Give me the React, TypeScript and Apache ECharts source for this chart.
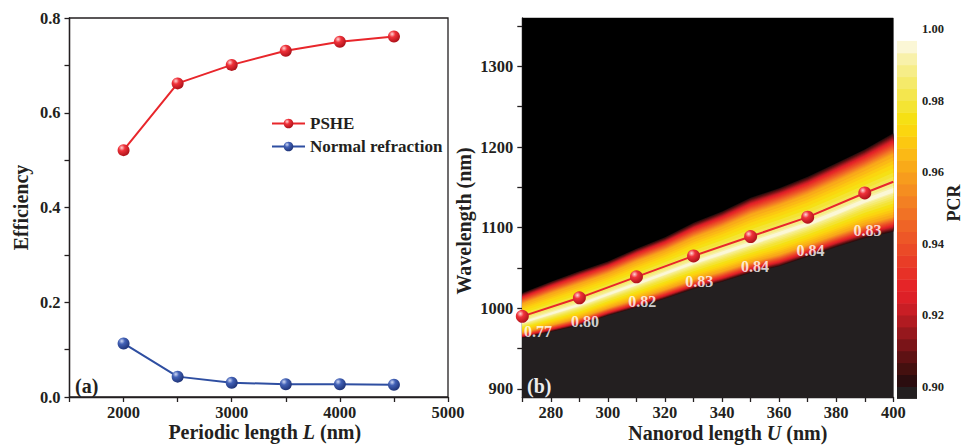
import React, { useEffect, useRef } from 'react';
import * as echarts from 'echarts';

const FONT = "'Liberation Serif', 'Times New Roman', serif";
const INK = '#231f20';

// ---- Panel (a) data ----
const PERIOD_L = [2000, 2500, 3000, 3500, 4000, 4500];
const PSHE_EFF = [0.521, 0.662, 0.701, 0.731, 0.75, 0.761];
const NORMAL_EFF = [0.113, 0.043, 0.03, 0.027, 0.027, 0.026];

// ---- Panel (b) data ----
const NANOROD_U = [270, 290, 310, 330, 350, 370, 390];
const PEAK_WL = [990, 1013, 1039, 1065, 1089, 1113, 1143];
const LINE_END = [400, 1157];
const PCR_TEXT = ['0.77', '0.80', '0.82', '0.83', '0.84', '0.84', '0.83'];
const LABEL_U = [275.5, 292, 312, 332, 351.5, 371, 391];
const LABEL_WL = [971, 984, 1008, 1033, 1052, 1072, 1097];

// PCR field outline: U grid, lower/upper 0.90 contour, ridge
const FIELD_U = [270, 280, 290, 300, 310, 320, 330, 340, 350, 360, 370, 380, 390, 400];
const FIELD_UPPER = [1019, 1033, 1046, 1058, 1074, 1088, 1106, 1120, 1137, 1149, 1163, 1180, 1197, 1217];
const FIELD_LOWER = [963, 971, 979, 991, 1001, 1012, 1024, 1033, 1044, 1052, 1064, 1076, 1087, 1095];
const FIELD_PEAK = [982, 993, 1004, 1017, 1030, 1043, 1056, 1068, 1080, 1092, 1104, 1118, 1133, 1146];
// fraction of the half-width (ridge -> edge) at which each PCR value lies
const PROFILE_V = [0.9, 0.93, 0.96, 0.97, 0.98, 0.99, 0.995, 1.0];
const PROFILE_T = [1.0, 0.84, 0.64, 0.46, 0.24, 0.08, 0.03, 0];

// colour scale (0.90 .. 0.9967, step 1/300)
const PCR_MIN = 0.9;
const PCR_STEP = 1 / 300;
const UNDER_COLOR = '#231f20';
const PCR_COLORS = [
  '#2b0d0f', '#44100f', '#5e1113', '#7a1418', '#96181d', '#b11b21', '#c91e25', '#dd2027',
  '#e52528', '#e73127', '#e93d27', '#eb4a27', '#ed5727', '#ef6426', '#f17225', '#f38023',
  '#f58e20', '#f79c1d', '#f9aa19', '#fbb915', '#fcc811', '#fbd60f', '#f6e014', '#f4e433',
  '#f4e64e', '#f5ea6a', '#f6ed88', '#f8f1aa', '#fbf7d6',
];
const CBAR_TICKS = [0.88, 1.0];

const WL_MIN = 890;
const WL_MAX = 1360;

function interp(xs: number[], ys: number[], x: number) {
  for (let i = 0; i < xs.length - 1; i++) {
    if (x >= xs[i] && x <= xs[i + 1]) {
      const f = (x - xs[i]) / (xs[i + 1] - xs[i]);
      return ys[i] + f * (ys[i + 1] - ys[i]);
    }
  }
  return x < xs[0] ? ys[0] : ys[ys.length - 1];
}

const sphere = (hi: string, mid: string, lo: string) => ({
  type: 'radial',
  x: 0.35,
  y: 0.3,
  r: 0.75,
  colorStops: [
    { offset: 0, color: hi },
    { offset: 0.35, color: mid },
    { offset: 1, color: lo },
  ],
});

const tickFont = { fontFamily: FONT, fontWeight: 'bold' as const, fontSize: 16.5, color: INK };
const titleRich = {
  a: { fontFamily: FONT, fontWeight: 'bold', fontSize: 20, color: INK },
  i: { fontFamily: FONT, fontWeight: 'bold', fontStyle: 'italic', fontSize: 20, color: INK },
};
const axisLine = { show: true, onZero: false, lineStyle: { color: INK, width: 1.3 } };
const axisTick = { show: true, length: 5, lineStyle: { color: INK, width: 1.3 } };

function buildOption() {
  const redSphere = sphere('#ffd6d6', '#f0323a', '#a80f17');
  const blueSphere = sphere('#d0d9f5', '#4261b6', '#1d3174');

  return {
    animation: false,
    grid: [
      { left: 69.5, top: 18, width: 378.5, height: 379, show: true, borderColor: INK, borderWidth: 1.3, outerBoundsMode: 'none', containLabel: false },
      { left: 522.3, top: 18, width: 371, height: 379, show: true, borderColor: '#8a8a8a', borderWidth: 1, backgroundColor: '#000', outerBoundsMode: 'none', containLabel: false },
      { left: 897, top: 29, width: 20, height: 429, outerBoundsMode: 'none', containLabel: false },
    ],
    xAxis: [
      {
        gridIndex: 0, type: 'value', min: 1500, max: 5000, interval: 500,
        axisLine, axisTick, splitLine: { show: false },
        axisLabel: { ...tickFont, margin: 7, formatter: (v: number) => (v % 1000 === 0 ? String(v) : '') },
        name: '{a|Periodic length }{i|L}{a| (nm)}', nameLocation: 'middle', nameGap: 25,
        nameMoveOverlap: false,
        nameTextStyle: { rich: titleRich, padding: [0, 0, 0, 12] },
      },
      {
        gridIndex: 1, type: 'value', min: 270, max: 400, interval: 10,
        axisLine, axisTick, splitLine: { show: false },
        axisLabel: { ...tickFont, margin: 7, formatter: (v: number) => (v % 20 === 0 ? String(v) : '') },
        name: '{a|Nanorod length }{i|U}{a| (nm)}', nameLocation: 'middle', nameGap: 25.5,
        nameMoveOverlap: false,
        nameTextStyle: { rich: titleRich, padding: [0, 0, 0, 40] },
      },
      { gridIndex: 2, type: 'value', min: 0, max: 1, show: false },
    ],
    yAxis: [
      {
        gridIndex: 0, type: 'value', min: 0, max: 0.8, interval: 0.1,
        axisLine, axisTick, splitLine: { show: false },
        axisLabel: { ...tickFont, margin: 9, formatter: (v: number) => (Math.round(v * 10) % 2 === 0 ? v.toFixed(1) : '') },
        name: 'Efficiency', nameLocation: 'middle', nameGap: 39,
        nameTextStyle: { fontFamily: FONT, fontWeight: 'bold', fontSize: 20, color: INK },
      },
      {
        gridIndex: 1, type: 'value', min: WL_MIN, max: WL_MAX,
        axisLine, splitLine: { show: false },
        axisTick: { ...axisTick, customValues: [900, 950, 1000, 1050, 1100, 1150, 1200, 1250, 1300, 1350] },
        axisLabel: { ...tickFont, margin: 9, customValues: [900, 1000, 1100, 1200, 1300], formatter: (v: number) => String(v) },
        name: 'Wavelength (nm)', nameLocation: 'middle', nameGap: 48,
        nameTextStyle: { fontFamily: FONT, fontWeight: 'bold', fontSize: 20, color: INK, padding: [0, 27, 0, 0] },
      },
      {
        gridIndex: 2, type: 'value', min: CBAR_TICKS[0], max: CBAR_TICKS[1], interval: 0.02, position: 'right',
        axisLine: { show: false }, axisTick: { show: false }, splitLine: { show: false },
        axisLabel: {
          fontFamily: FONT, fontWeight: 'bold', fontSize: 12.5, color: INK, margin: 5,
          formatter: (v: number) => (v < 0.895 ? '' : v.toFixed(2)),
        },
      },
    ],
    legend: {
      data: ['PSHE', 'Normal refraction'],
      orient: 'vertical', left: 266, top: 110, itemWidth: 33, itemHeight: 12, itemGap: 6,
      textStyle: { fontFamily: FONT, fontWeight: 'bold', fontSize: 17, color: INK },
    },
    graphic: [
      { type: 'text', x: 75, y: 386, z: 100, style: { text: '(a)', font: `bold 20px ${FONT}`, fill: INK, verticalAlign: 'middle' } },
      { type: 'text', x: 527, y: 386, z: 100, style: { text: '(b)', font: `bold 20px ${FONT}`, fill: '#ececec', verticalAlign: 'middle' } },
      { type: 'text', x: 954, y: 203, rotation: Math.PI / 2, z: 100, style: { text: 'PCR', font: `bold 18px ${FONT}`, fill: INK, align: 'center', verticalAlign: 'middle' } },
    ],
    series: [
      {
        name: 'PSHE', type: 'line', xAxisIndex: 0, yAxisIndex: 0,
        data: PERIOD_L.map((l, i) => [l, PSHE_EFF[i]]),
        symbol: 'circle', symbolSize: 12,
        itemStyle: { color: redSphere },
        lineStyle: { color: '#e8262b', width: 2 },
      },
      {
        name: 'Normal refraction', type: 'line', xAxisIndex: 0, yAxisIndex: 0,
        data: PERIOD_L.map((l, i) => [l, NORMAL_EFF[i]]),
        symbol: 'circle', symbolSize: 12,
        itemStyle: { color: blueSphere },
        lineStyle: { color: '#2e4ea1', width: 2 },
      },
      {
        type: 'custom', xAxisIndex: 1, yAxisIndex: 1, z: 1, silent: true,
        data: [[FIELD_U[0], WL_MIN]],
        renderItem: (_params: any, api: any) => {
          const P = (u: number, w: number) => api.coord([u, w]);
          const n = FIELD_U.length;
          const children: any[] = [];
          const ridge = FIELD_U.map((u, i) => P(u, FIELD_PEAK[i]));
          children.push({
            type: 'polygon',
            shape: { points: [P(FIELD_U[0], WL_MIN), ...ridge, P(FIELD_U[n - 1], WL_MIN)] },
            style: { fill: UNDER_COLOR },
          });
          children.push({
            type: 'polygon',
            shape: { points: [P(FIELD_U[0], WL_MAX), ...ridge, P(FIELD_U[n - 1], WL_MAX)] },
            style: { fill: '#000' },
          });
          PCR_COLORS.forEach((c, k) => {
            const v = PCR_MIN + k * PCR_STEP;
            const t = interp(PROFILE_V, PROFILE_T, v);
            const lo = FIELD_U.map((u, i) => P(u, FIELD_PEAK[i] - t * (FIELD_PEAK[i] - FIELD_LOWER[i])));
            const hi = FIELD_U.map((u, i) => P(u, FIELD_PEAK[i] + t * (FIELD_UPPER[i] - FIELD_PEAK[i]))).reverse();
            children.push({ type: 'polygon', shape: { points: [...lo, ...hi] }, style: { fill: c } });
          });
          return { type: 'group', children };
        },
      },
      {
        type: 'line', xAxisIndex: 1, yAxisIndex: 1, z: 3,
        data: [
          ...NANOROD_U.map((u, i) => [u, PEAK_WL[i]]),
          { value: LINE_END, symbol: 'none' },
        ],
        symbol: 'circle', symbolSize: 13,
        itemStyle: { color: redSphere },
        lineStyle: { color: '#e8262b', width: 2 },
      },
      {
        type: 'scatter', xAxisIndex: 1, yAxisIndex: 1, z: 4, symbolSize: 1,
        itemStyle: { color: 'rgba(0,0,0,0)' },
        label: {
          show: true, position: 'inside', formatter: (p: any) => p.name,
          color: '#ffffff', fontFamily: FONT, fontWeight: 'bold', fontSize: 16,
        },
        data: PCR_TEXT.map((s, i) => ({ name: s, value: [LABEL_U[i], LABEL_WL[i]] })),
      },
      {
        type: 'custom', xAxisIndex: 2, yAxisIndex: 2, silent: true,
        data: [
          [0.5, PCR_MIN - PCR_STEP, PCR_MIN, -1],
          ...PCR_COLORS.map((_c, k) => [0.5, PCR_MIN + k * PCR_STEP, PCR_MIN + (k + 1) * PCR_STEP, k]),
        ],
        renderItem: (_params: any, api: any) => {
          const a = api.coord([0, api.value(2)]);
          const b = api.coord([1, api.value(1)]);
          const idx = api.value(3);
          return {
            type: 'rect',
            shape: { x: a[0], y: a[1], width: b[0] - a[0], height: b[1] - a[1] + 0.5 },
            style: { fill: idx < 0 ? UNDER_COLOR : PCR_COLORS[idx] },
          };
        },
      },
    ],
  };
}

export default function App() {
  const ref = useRef<HTMLDivElement>(null);
  useEffect(() => {
    if (!ref.current) return;
    const chart = echarts.init(ref.current, null, { renderer: 'svg' });
    chart.setOption(buildOption() as any);
    return () => chart.dispose();
  }, []);
  return (
    <div
      ref={ref}
      style={{ position: 'fixed', left: 0, top: 0, width: 974, height: 445, background: '#fff' }}
    />
  );
}
